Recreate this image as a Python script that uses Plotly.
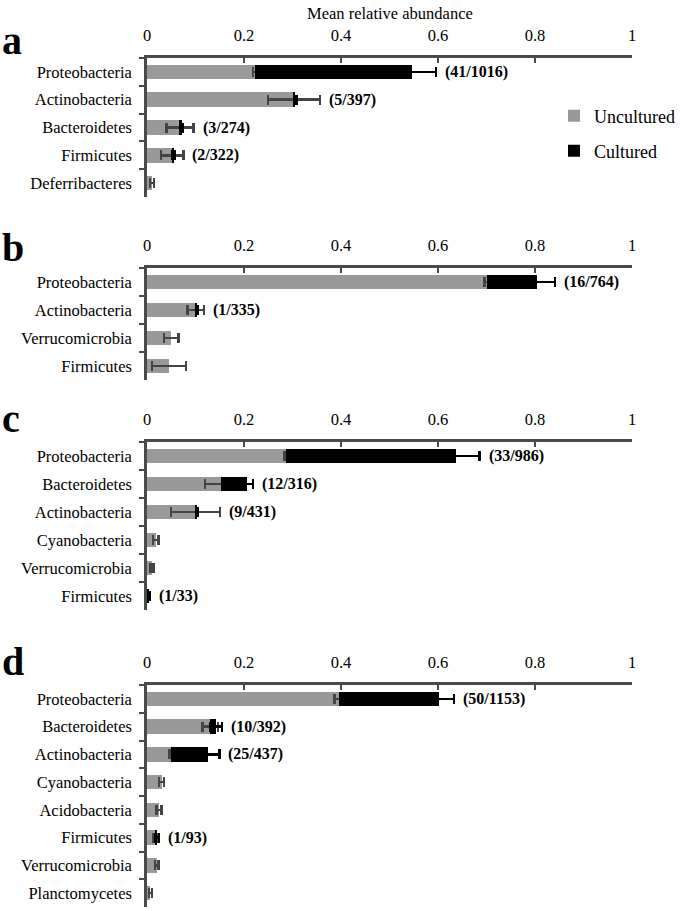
import plotly.graph_objects as go

# ---------------- data ----------------
cats_a = ["Proteobacteria", "Actinobacteria", "Bacteroidetes", "Firmicutes", "Deferribacteres"]
unc_a = [0.223, 0.303, 0.068, 0.052, 0.010]
unc_err_a = [0.004, 0.054, 0.028, 0.023, 0.004]
cul_a = [0.324, 0.003, 0.004, 0.003, None]
cul_err_a = [0.049, 0.002, 0.002, 0.002, None]
lab_a = ["41/1016", "5/397", "3/274", "2/322", None]

cats_b = ["Proteobacteria", "Actinobacteria", "Verrucomicrobia", "Firmicutes"]
unc_b = [0.700, 0.100, 0.050, 0.045]
unc_err_b = [0.004, 0.017, 0.015, 0.035]
cul_b = [0.105, 0.003, None, None]
cul_err_b = [0.036, 0.002, None, None]
lab_b = ["16/764", "1/335", None, None]

cats_c = ["Proteobacteria", "Bacteroidetes", "Actinobacteria", "Cyanobacteria", "Verrucomicrobia", "Firmicutes"]
unc_c = [0.287, 0.152, 0.100, 0.018, 0.010, 0.0]
unc_err_c = [0.004, 0.032, 0.051, 0.006, 0.003, None]
cul_c = [0.350, 0.054, 0.003, None, None, 0.004]
cul_err_c = [0.049, 0.013, 0.002, None, None, 0.002]
lab_c = ["33/986", "12/316", "9/431", None, None, "1/33"]

cats_d = ["Proteobacteria", "Bacteroidetes", "Actinobacteria", "Cyanobacteria",
          "Acidobacteria", "Firmicutes", "Verrucomicrobia", "Planctomycetes"]
unc_d = [0.395, 0.130, 0.050, 0.030, 0.025, 0.018, 0.020, 0.007]
unc_err_d = [0.008, 0.016, 0.004, 0.005, 0.005, 0.005, 0.004, 0.003]
cul_d = [0.208, 0.013, 0.075, None, None, 0.003, None, None]
cul_err_d = [0.030, 0.012, 0.024, None, None, 0.004, None, None]
lab_d = ["50/1153", "10/392", "25/437", None, None, "1/93", None, None]

x_ticks = [0, 0.2, 0.4, 0.6, 0.8, 1]
x_ticktext = ["0", "0.2", "0.4", "0.6", "0.8", "1"]
panel_letters = ["a", "b", "c", "d"]
series_names = ["Uncultured", "Cultured"]

# ---------------- style ----------------
W, H = 680, 911
FONT = "Liberation Serif, Times New Roman, serif"
GRAY = "#999999"
BLACK = "#000000"
AXIS = "#4a4a4a"
ERR_GRAY = "#444444"

panel_px = [(58, 197), (268, 380), (442, 610), (685, 907)]
letter_px = [40, 247, 418, 661]
x_left, x_right = 147, 632

panels = [
    (cats_a, unc_a, unc_err_a, cul_a, cul_err_a, lab_a),
    (cats_b, unc_b, unc_err_b, cul_b, cul_err_b, lab_b),
    (cats_c, unc_c, unc_err_c, cul_c, cul_err_c, lab_c),
    (cats_d, unc_d, unc_err_d, cul_d, cul_err_d, lab_d),
]

fig = go.Figure()
annotations = []
layout = {}

for i, (cats, unc, unc_err, cul, cul_err, labs) in enumerate(panels):
    k = i + 1
    xs = "x" if k == 1 else f"x{k}"
    ys = "y" if k == 1 else f"y{k}"
    fig.add_trace(go.Bar(
        orientation="h", y=cats, x=unc, xaxis=xs, yaxis=ys,
        name=series_names[0], marker=dict(color=GRAY, line=dict(width=0)),
        error_x=dict(type="data", array=unc_err, color=ERR_GRAY, thickness=2.5, width=5),
        showlegend=(k == 1), legend="legend",
    ))
    fig.add_trace(go.Bar(
        orientation="h", y=cats, x=cul, xaxis=xs, yaxis=ys,
        name=series_names[1], marker=dict(color=BLACK, line=dict(width=0)),
        error_x=dict(type="data", array=cul_err, color=BLACK, thickness=2.5, width=5),
        showlegend=(k == 1), legend="legend2",
    ))
    top, bot = panel_px[i]
    n = len(cats)
    layout["xaxis" if k == 1 else f"xaxis{k}"] = dict(
        domain=[x_left / W, x_right / W], anchor=ys, side="top",
        range=[0, 1.0], showline=True, linecolor=AXIS, linewidth=2.5,
        ticks="inside", ticklen=5, tickwidth=2, tickcolor=AXIS,
        tickvals=x_ticks, ticktext=x_ticktext, ticklabelstandoff=8,
        tickfont=dict(family=FONT, size=16.5, color="#000"),
        showgrid=False, zeroline=False, fixedrange=True, automargin=False,
    )
    layout["yaxis" if k == 1 else f"yaxis{k}"] = dict(
        domain=[1 - bot / H, 1 - top / H], anchor=xs, type="category",
        categoryorder="array", categoryarray=cats, range=[n - 0.5, -0.5],
        showline=True, linecolor=AXIS, linewidth=2.5,
        ticks="outside", tickson="boundaries", ticklen=5, tickwidth=2, tickcolor=AXIS,
        ticklabelstandoff=9,
        tickfont=dict(family=FONT, size=16.5, color="#000"),
        showgrid=False, zeroline=False, fixedrange=True, automargin=False,
    )
    for c, u, ue, cv, ce, lab in zip(cats, unc, unc_err, cul, cul_err, labs):
        if lab is None:
            continue
        end = max((u or 0) + (ue or 0), (u or 0) + (cv or 0) + (ce or 0))
        num, den = lab.split("/")
        annotations.append(dict(
            x=end, y=c, xref=xs, yref=ys, xanchor="left", yanchor="middle",
            xshift=7, showarrow=False,
            text=f"<b>({num}/{den})</b>",
            font=dict(family=FONT, size=16, color="#000"),
        ))
    annotations.append(dict(
        x=0, y=1 - letter_px[i] / H, xref="paper", yref="paper",
        xanchor="left", yanchor="middle", showarrow=False,
        text=f"<b>{panel_letters[i]}</b>",
        font=dict(family=FONT, size=40, color="#000"),
    ))

annotations.append(dict(
    x=(x_left + x_right) / 2 / W, y=1 - 13 / H, xref="paper", yref="paper",
    xanchor="center", yanchor="middle", showarrow=False,
    text="Mean relative abundance",
    font=dict(family=FONT, size=16.5, color="#000"),
))

fig.update_layout(
    width=W, height=H, margin=dict(l=0, r=0, t=0, b=0, autoexpand=False),
    paper_bgcolor="white", plot_bgcolor="white",
    barmode="stack", bargap=0.48,
    font=dict(family=FONT, size=16, color="#000"),
    annotations=annotations,
    legend=dict(x=554 / W, y=1 - 116 / H, xanchor="left", yanchor="middle",
                font=dict(family=FONT, size=18), bgcolor="rgba(0,0,0,0)"),
    legend2=dict(x=554 / W, y=1 - 151 / H, xanchor="left", yanchor="middle",
                 font=dict(family=FONT, size=18), bgcolor="rgba(0,0,0,0)"),
    **layout,
)

fig.write_html("out.html", config={"displayModeBar": False},
               post_script="document.body.style.margin='0px';")
